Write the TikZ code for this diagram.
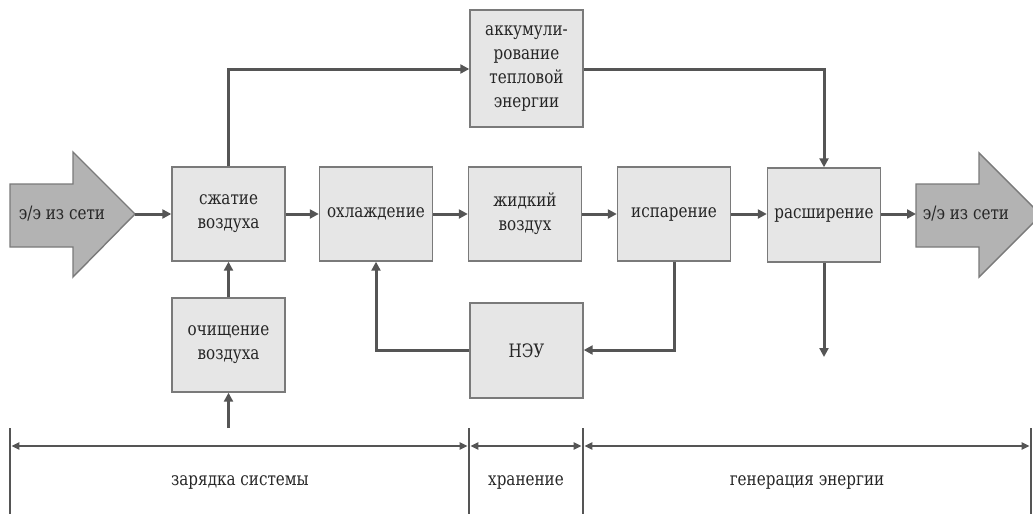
\documentclass[tikz,border=0pt]{standalone}
\usepackage{fontspec}
\newfontfamily\tnr[FakeStretch=0.82]{DejaVu Serif}
\usetikzlibrary{arrows.meta}
\definecolor{lineg}{HTML}{555555}
\definecolor{boxfill}{HTML}{E6E6E6}
\definecolor{boxedge}{HTML}{7A7A7A}
\definecolor{arrfill}{HTML}{B3B3B3}
\begin{document}
\begin{tikzpicture}[x=1pt,y=-1pt,
  box/.style={draw=boxedge, fill=boxfill, line width=1.4pt, minimum width=113pt, minimum height=94pt, align=center, inner sep=0pt, font=\tnr\fontsize{18.5}{24}\selectfont, text=black!85},
  lbl/.style={font=\tnr\fontsize{18.5}{24}\selectfont, inner sep=0pt, text=black!85},
  flow/.style={draw=lineg, line width=3pt, -{Triangle[length=9pt,width=9pt]}},
  span/.style={draw=lineg, line width=2.2pt, {Triangle[length=8pt,width=7pt]}-{Triangle[length=8pt,width=7pt]}},
  bar/.style={draw=lineg, line width=2.6pt},
  bigarrow/.style={draw=boxedge, fill=arrfill, line width=1.4pt}
]
\useasboundingbox (0,0) rectangle (1033,514);
% big arrows
\draw[bigarrow] (10,184) -- (73,184) -- (73,152) -- (135,214) -- (73,277) -- (73,247) -- (10,247) -- cycle;
\draw[bigarrow] (916,184) -- (979,184) -- (979,153) -- (1041,215) -- (979,277) -- (979,247) -- (916,247) -- cycle;
\node[lbl] (inarr) at (62,214) {э/э из сети};
\node[lbl] (outarr) at (966,214) {э/э из сети};
\coordinate (intip) at (135,214);
\coordinate (outbase) at (916,214);
% boxes
\node[box] (szh) at (228.5,214) {сжатие\\воздуха};
\node[box] (ohl) at (376,214) {охлаждение};
\node[box] (zhid) at (525,214) {жидкий\\воздух};
\node[box] (isp) at (674,214) {испарение};
\node[box] (rassh) at (824,215) {расширение};
\node[box, minimum height=117pt] (akk) at (526.5,68.5) {аккумули-\\рование\\тепловой\\энергии};
\node[box] (och) at (228.5,345) {очищение\\воздуха};
\node[box, minimum height=95pt] (neu) at (526.5,350.5) {НЭУ};
% flows
\draw[flow] (intip) -- (szh.west);
\draw[flow] (szh.east) -- (ohl.west);
\draw[flow] (ohl.east) -- (zhid.west);
\draw[flow] (zhid.east) -- (isp.west);
\draw[flow] (isp.east) -- (rassh.west |- isp.east);
\draw[flow] (rassh.east |- isp.east) -- (outbase);
\draw[flow] (szh.north) -- (228.5,69) -- (akk.west |- 0,69);
\draw[flow] (akk.east |- 0,69) -- (824,69) -- (rassh.north);
\coordinate (rout) at (824,357);
\draw[flow] (rassh.south) -- (rout);
\draw[flow] (och.north) -- (szh.south);
\coordinate (ochin) at (228.5,428);
\draw[flow] (ochin) -- (och.south);
\draw[flow] (isp.south) -- (674,350) -- (neu.east |- 0,350);
\draw[flow] (neu.west |- 0,350) -- (376,350) -- (ohl.south);
% timeline
\coordinate (b1t) at (10,428); \coordinate (b1b) at (10,514);
\coordinate (b2t) at (469,428); \coordinate (b2b) at (469,514);
\coordinate (b3t) at (583,428); \coordinate (b3b) at (583,514);
\coordinate (b4t) at (1031,428); \coordinate (b4b) at (1031,514);
\draw[bar] (b1t) -- (b1b);
\draw[bar] (b2t) -- (b2b);
\draw[bar] (b3t) -- (b3b);
\draw[bar] (b4t) -- (b4b);
\draw[span] ([xshift=1.3pt]b1t |- 0,446) -- ([xshift=-1.3pt]b2t |- 0,446);
\draw[span] ([xshift=1.3pt]b2t |- 0,446) -- ([xshift=-1.3pt]b3t |- 0,446);
\draw[span] ([xshift=1.3pt]b3t |- 0,446) -- ([xshift=-1.3pt]b4t |- 0,446);
\node[lbl] (t1) at (240,482) {зарядка системы};
\node[lbl] (t2) at (526,482) {хранение};
\node[lbl] (t3) at (807,482) {генерация энергии};
\end{tikzpicture}
\end{document}
